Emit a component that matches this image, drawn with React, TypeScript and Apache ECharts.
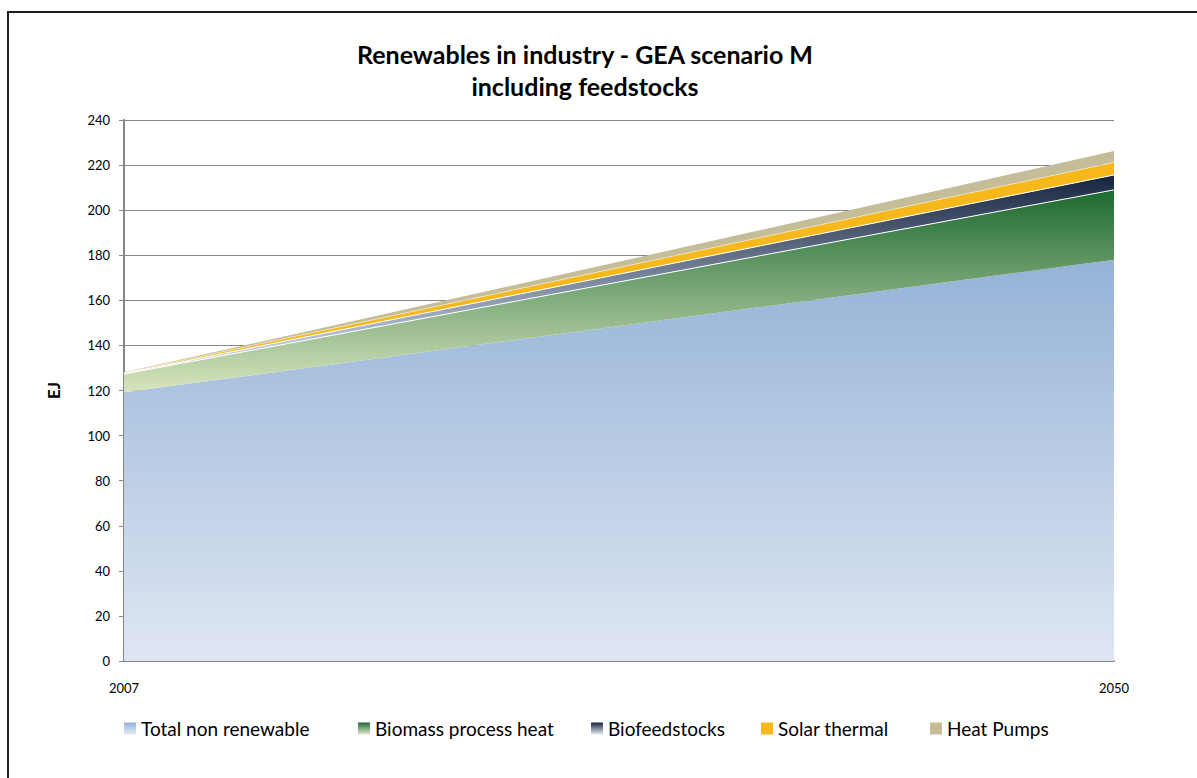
import React, { useEffect, useRef } from "react";
import * as echarts from "echarts";

const years = ["2007", "2050"];
const seriesNames = ["Total non renewable", "Biomass process heat", "Biofeedstocks", "Solar thermal", "Heat Pumps"];
const totalNonRenewable = [119.2, 178];
const biomassProcessHeat = [8.1, 31];
const biofeedstocks = [0.3, 6.6];
const solarThermal = [0.3, 5.6];
const heatPumps = [0.2, 5];

const grad = (top: string, bottom: string) =>
  new echarts.graphic.LinearGradient(0, 0, 0, 1, [
    { offset: 0, color: top },
    { offset: 1, color: bottom },
  ]);

export default function App() {
  const ref = useRef<HTMLDivElement>(null);
  useEffect(() => {
    if (!ref.current) return;
    const chart = echarts.init(ref.current, null, { renderer: "svg" });
    const font = "Lato, 'Open Sans', sans-serif";
    const fills = [
      grad("#95b3d7", "#dfe6f3"),
      grad("#1d6a30", "#d8e5bf"),
      grad("#17243f", "#d5e1f2"),
      "#f6b81a",
      "#c4bd97",
    ];
    const legendIcons = [
      grad("#95b3d7", "#e6ecf6"),
      grad("#1d6a30", "#e1edd0"),
      grad("#17243f", "#e6ecf6"),
      "#f6b81a",
      "#c4bd97",
    ];
    const datas = [totalNonRenewable, biomassProcessHeat, biofeedstocks, solarThermal, heatPumps];
    const lineW = [0, 1, 1, 0.5, 0];
    const legendLefts = [124, 358, 591, 761, 930];
    chart.setOption({
      animation: false,
      backgroundColor: "#ffffff",
      title: {
        text: "Renewables in industry - GEA scenario M\nincluding feedstocks",
        left: 585,
        textAlign: "center",
        top: 38,
        padding: 0,
        textStyle: { fontFamily: font, fontWeight: "bold", fontSize: 25, lineHeight: 32, color: "#000" },
      },
      graphic: [
        {
          type: "rect",
          shape: { x: 8, y: 12, width: 1300, height: 900 },
          style: { fill: "none", stroke: "#1e1e1e", lineWidth: 2 },
          silent: true,
        },
      ],
      legend: seriesNames.map((n, i) => ({
        data: [{ name: n, itemStyle: { color: legendIcons[i] } }],
        left: legendLefts[i],
        top: 719,
        padding: 0,
        icon: "rect",
        itemWidth: 12,
        itemHeight: 12,
        itemGap: 0,
        textStyle: { fontFamily: font, fontSize: 19, color: "#000", padding: [0, 0, 0, 0] },
        selectedMode: false,
      })),
      grid: { left: 124, right: 83, top: 120, bottom: 117, containLabel: false },
      xAxis: {
        type: "category",
        data: years,
        boundaryGap: false,
        axisLine: { lineStyle: { color: "#868686", width: 2 } },
        axisTick: { show: false },
        axisLabel: { fontFamily: font, fontSize: 13, color: "#000", margin: 20 },
        splitLine: { show: false },
      },
      yAxis: {
        type: "value",
        min: 0,
        max: 240,
        interval: 20,
        name: "EJ",
        nameLocation: "middle",
        nameRotate: 90,
        nameGap: 62,
        nameTextStyle: { fontFamily: font, fontWeight: "bold", fontSize: 17, color: "#000" },
        axisLine: { show: true, lineStyle: { color: "#868686", width: 2 } },
        axisTick: { show: true, length: 5, lineStyle: { color: "#868686" } },
        axisLabel: { fontFamily: font, fontSize: 13, color: "#000", margin: 14 },
        splitLine: { lineStyle: { color: "#868686", width: 1 } },
      },
      series: seriesNames.map((n, i) => ({
        name: n,
        type: "line",
        stack: "total",
        data: datas[i],
        symbol: "none",
        itemStyle: { color: legendIcons[i] },
        lineStyle: { color: "#ffffff", width: lineW[i], opacity: lineW[i] ? 1 : 0 },
        areaStyle: { color: fills[i], opacity: 1 },
        z: 2,
      })),
    });
    return () => chart.dispose();
  }, []);
  return <div ref={ref} style={{ position: "fixed", left: 0, top: 0, width: 1197, height: 778 }} />;
}
